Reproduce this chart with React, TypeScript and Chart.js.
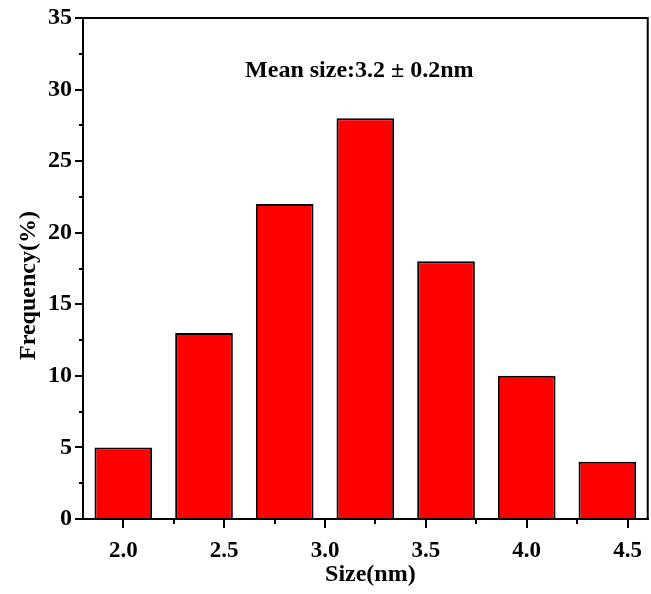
import React, { useEffect, useRef } from 'react';
import { Chart, registerables } from 'chart.js';

Chart.register(...registerables);

const sizes = [2.0, 2.4, 2.8, 3.2, 3.6, 4.0, 4.4];
const frequencies = [5, 13, 22, 28, 18, 10, 4];
const xMinorTicks = [2.25, 2.75, 3.25, 3.75, 4.25];
const yMinorTicks = [2.5, 7.5, 12.5, 17.5, 22.5, 27.5, 32.5];
const xTitle = 'Size(nm)';
const yTitle = 'Frequency(%)';
const annotationText = 'Mean size:3.2 ± 0.2nm';
const annotationPos = [3.17, 30.9];

const FONT = "'Times New Roman', 'Liberation Serif', serif";

const decorPlugin = {
  id: 'decor',
  afterDraw(chart: any) {
    const { ctx, chartArea, scales } = chart;
    const xs = scales.x;
    const ys = scales.y;
    ctx.save();
    ctx.strokeStyle = '#000';
    ctx.lineWidth = 2;
    // frame top & right
    ctx.beginPath();
    ctx.moveTo(chartArea.left - 1, chartArea.top);
    ctx.lineTo(chartArea.right, chartArea.top);
    ctx.lineTo(chartArea.right, chartArea.bottom);
    ctx.stroke();
    // minor ticks
    ctx.beginPath();
    for (const v of xMinorTicks) {
      const px = Math.round(xs.getPixelForValue(v));
      ctx.moveTo(px, chartArea.bottom);
      ctx.lineTo(px, chartArea.bottom + 5);
    }
    for (const v of yMinorTicks) {
      const py = Math.round(ys.getPixelForValue(v));
      ctx.moveTo(chartArea.left, py);
      ctx.lineTo(chartArea.left - 4, py);
    }
    ctx.stroke();
    // annotation
    ctx.fillStyle = '#000';
    ctx.font = `bold 24px ${FONT}`;
    ctx.textAlign = 'center';
    ctx.textBaseline = 'alphabetic';
    ctx.fillText(annotationText, xs.getPixelForValue(annotationPos[0]), ys.getPixelForValue(annotationPos[1]));
    // x title
    ctx.fillText(xTitle, (chartArea.left + chartArea.right) / 2 + 5, 581);
    // y title
    ctx.save();
    ctx.translate(35, (chartArea.top + chartArea.bottom) / 2 + 17);
    ctx.rotate(-Math.PI / 2);
    ctx.fillText(yTitle, 0, 0);
    ctx.restore();
    ctx.restore();
  },
};

export default function App() {
  const ref = useRef<HTMLCanvasElement | null>(null);
  useEffect(() => {
    if (!ref.current) return;
    const chart = new Chart(ref.current, {
      type: 'bar',
      data: {
        datasets: [
          {
            data: sizes.map((s, i) => ({ x: s, y: frequencies[i] })),
            backgroundColor: '#ff0000',
            borderColor: '#000000',
            borderWidth: 2,
            barPercentage: 0.715,
            categoryPercentage: 1,
          },
        ],
      },
      options: {
        responsive: false,
        animation: false,
        devicePixelRatio: 1,
        layout: { padding: { top: 18, right: 2, left: 0, bottom: 0 } },
        plugins: { legend: { display: false }, tooltip: { enabled: false } },
        scales: {
          x: {
            type: 'linear',
            offset: false,
            min: 1.8,
            max: 4.6,
            afterFit: (s: any) => { s.height = 75; },
            border: { display: true, color: '#000', width: 2 },
            grid: { display: true, drawOnChartArea: false, drawTicks: true, tickLength: 9, color: '#000', lineWidth: 2, offset: false },
            ticks: {
              stepSize: 0.5,
              includeBounds: false,
              autoSkip: false,
              maxRotation: 0,
              padding: 9,
              color: '#000',
              font: { family: FONT, size: 23, weight: 'bold' },
              callback: (v: any) => Number(v).toFixed(1),
            },
          },
          y: {
            min: 0,
            max: 35,
            afterFit: (s: any) => { s.width = 83; },
            border: { display: true, color: '#000', width: 2 },
            grid: { display: true, drawOnChartArea: false, drawTicks: true, tickLength: 8, color: '#000', lineWidth: 2 },
            ticks: {
              stepSize: 5,
              padding: 3,
              color: '#000',
              font: { family: FONT, size: 24, weight: 'bold' },
            },
          },
        },
      } as any,
      plugins: [decorPlugin],
    });
    return () => chart.destroy();
  }, []);
  return (
    <div style={{ position: 'absolute', left: 0, top: 0, width: 651, height: 594, background: '#fff' }}>
      <canvas ref={ref} width={651} height={594} style={{ display: 'block' }} />
    </div>
  );
}
